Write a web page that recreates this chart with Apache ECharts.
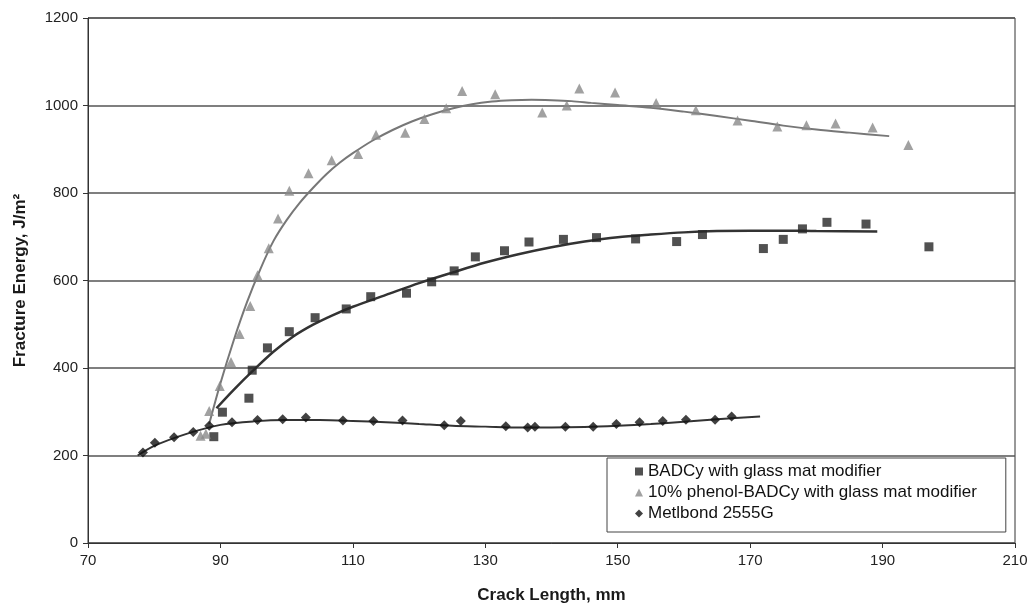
<!DOCTYPE html>
<html>
<head>
<meta charset="utf-8">
<script src="https://cdn.jsdelivr.net/npm/echarts@6/dist/echarts.min.js"></script>
<style>
html,body{margin:0;padding:0;background:#fff;}
#chart{width:1031px;height:611px;}
</style>
</head>
<body>
<div id="chart"></div>
<script>
// Tick labels
const xTicks = [70, 90, 110, 130, 150, 170, 190, 210];
const yTicks = [0, 200, 400, 600, 800, 1000, 1200];

// BADCy with glass mat modifier (squares)
const badcyX = [89.0, 90.3, 94.3, 94.8, 97.1, 100.4, 104.3, 109.0, 112.7, 118.1, 121.9, 125.3, 128.5, 132.9, 136.6, 141.8, 146.8, 152.7, 158.9, 162.8, 172.0, 175.0, 177.9, 181.6, 187.5, 197.0];
const badcyY = [243, 299, 331, 395, 446, 483, 515, 535, 563, 571, 597, 622, 654, 668, 688, 694, 698, 695, 689, 705, 673, 694, 718, 733, 729, 677];
// trend line
const badcyFitX = [89.4, 92, 95, 98, 101, 104, 107, 110, 115, 120, 125, 130, 135, 140, 145, 150, 155, 160, 165, 170, 175, 180, 189.2];
const badcyFitY = [308, 350, 395, 437, 472, 499, 521, 540, 567, 594, 618, 641, 660, 676, 689, 699, 705, 710, 713, 714, 714, 713, 712];

// 10% phenol-BADCy with glass mat modifier (triangles)
const phenolX = [87.0, 87.8, 88.3, 89.9, 91.6, 92.9, 94.5, 95.6, 97.3, 98.7, 100.4, 103.3, 106.8, 110.8, 113.5, 117.9, 120.8, 124.1, 126.5, 131.5, 138.6, 142.3, 144.2, 149.6, 155.8, 161.8, 168.1, 174.1, 178.5, 182.9, 188.5, 193.9];
const phenolY = [245, 250, 302, 359, 414, 478, 542, 612, 674, 742, 805, 845, 875, 889, 933, 938, 969, 994, 1033, 1026, 984, 1000, 1039, 1030, 1006, 989, 966, 952, 955, 959, 950, 910];
const phenolFitX = [88.3, 90, 92, 94, 96, 98, 100, 102, 104, 106, 108, 110, 113, 116, 119, 122, 125, 128, 131, 134, 137, 140, 143, 146, 150, 155, 160, 165, 170, 175, 180, 185, 191];
const phenolFitY = [272, 365, 463, 550, 625, 690, 738, 778, 812, 843, 869, 891, 920, 944, 964, 980, 993, 1003, 1009, 1012, 1013, 1012, 1010, 1006, 1001, 995, 986, 976, 965, 954, 945, 938, 930];

// Metlbond 2555G (diamonds)
const metX = [78.3, 80.1, 83.0, 85.9, 88.3, 91.75, 95.6, 99.4, 102.9, 108.5, 113.1, 117.5, 123.8, 126.3, 133.1, 136.4, 137.5, 142.1, 146.3, 149.8, 153.3, 156.8, 160.3, 164.7, 167.2];
const metY = [207, 229, 242, 254, 268, 276, 281, 283, 287, 280, 279, 280, 269, 279, 267, 264, 266, 266, 266, 272, 276, 279, 282, 282, 289];
const metFitX = [77.5, 80, 85, 90, 95, 100, 105, 110, 115, 120, 125, 130, 135, 140, 145, 150, 155, 160, 165, 171.5];
const metFitY = [200, 222, 250, 270, 278, 281, 281, 279, 276, 272, 268, 266, 264, 264, 265, 268, 272, 277, 283, 289];

const names = ['BADCy with glass mat modifier', '10% phenol-BADCy with glass mat modifier', 'Metlbond 2555G'];
const zip = (a, b) => a.map((v, i) => [v, b[i]]);

const chart = echarts.init(document.getElementById('chart'));
const font = 'Liberation Sans, Arial, sans-serif';
const fitLine = (data, color, width) => ({
  type: 'line', data, smooth: 0.3, symbol: 'none',
  lineStyle: {color, width}, silent: true, z: 2
});
chart.setOption({
  animation: false,
  backgroundColor: '#fff',
  grid: {left: 88, right: 16, top: 18, bottom: 68, show: true, borderColor: '#333', borderWidth: 1},
  xAxis: {
    type: 'value', min: 70, max: 210, interval: 20,
    name: 'Crack Length, mm', nameLocation: 'middle', nameGap: 44,
    nameTextStyle: {fontFamily: font, fontSize: 17, fontWeight: 'bold', color: '#1a1a1a'},
    axisLine: {show: true, lineStyle: {color: '#333', width: 1}},
    axisTick: {show: true, inside: false, length: 5, lineStyle: {color: '#333'}},
    axisLabel: {fontFamily: font, fontSize: 15, color: '#222', margin: 10,
      formatter: v => xTicks.includes(v) ? String(v) : ''},
    splitLine: {show: false}
  },
  yAxis: {
    type: 'value', min: 0, max: 1200, interval: 200,
    name: 'Fracture Energy, J/m²', nameLocation: 'middle', nameGap: 59,
    nameTextStyle: {fontFamily: font, fontSize: 17, fontWeight: 'bold', color: '#1a1a1a'},
    axisLine: {show: true, lineStyle: {color: '#333', width: 1}},
    axisTick: {show: true, inside: false, length: 5, lineStyle: {color: '#333'}},
    axisLabel: {fontFamily: font, fontSize: 15, color: '#222', margin: 10,
      formatter: v => yTicks.includes(v) ? String(v) : ''},
    splitLine: {show: true, lineStyle: {color: '#555', width: 1.5}}
  },
  legend: {
    data: names.map((n, i) => ({name: n, icon: ['rect', 'triangle', 'diamond'][i]})),
    orient: 'vertical', left: 607, top: 458,
    padding: [5, 29, 10, 28], itemGap: 4, itemWidth: 8, itemHeight: 8,
    backgroundColor: '#fff', borderColor: '#444', borderWidth: 1,
    textStyle: {fontFamily: font, fontSize: 17, color: '#111'}
  },
  series: [
    fitLine(zip(badcyFitX, badcyFitY), '#333', 2.5),
    fitLine(zip(phenolFitX, phenolFitY), '#777', 2),
    fitLine(zip(metFitX, metFitY), '#333', 2),
    {name: names[0], type: 'scatter', data: zip(badcyX, badcyY), symbol: 'rect', symbolSize: 9,
      itemStyle: {color: '#262626'}, z: 3},
    {name: names[1], type: 'scatter', data: zip(phenolX, phenolY), symbol: 'triangle', symbolSize: 10,
      itemStyle: {color: '#8a8a8a'}, z: 3},
    {name: names[2], type: 'scatter', data: zip(metX, metY), symbol: 'diamond', symbolSize: 10,
      itemStyle: {color: '#111'}, z: 3}
  ]
});
</script>
</body>
</html>
